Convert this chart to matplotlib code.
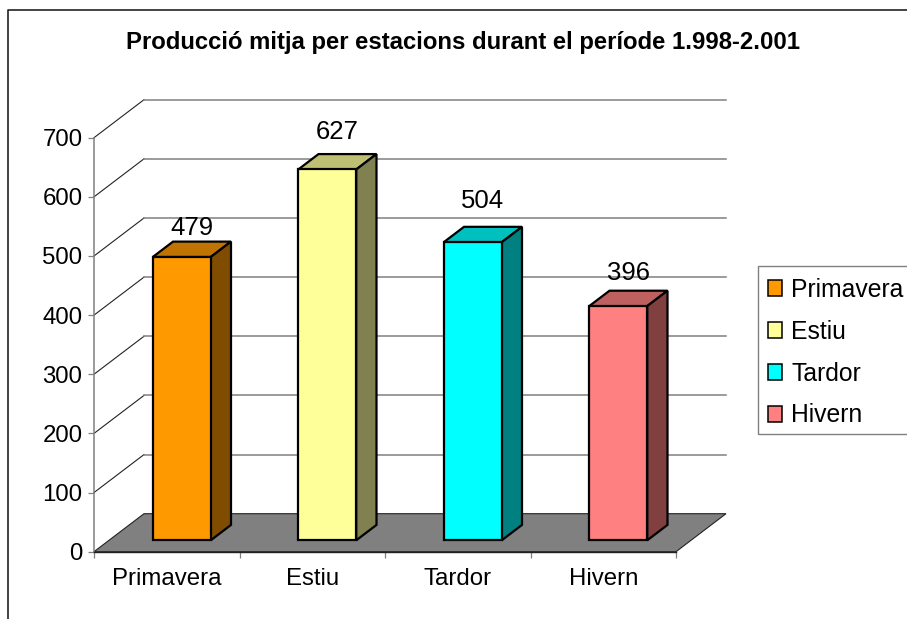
import matplotlib
matplotlib.use("Agg")
import matplotlib.pyplot as plt
from matplotlib.lines import Line2D
from matplotlib.patches import Patch, Polygon, Rectangle

categories = ["Primavera", "Estiu", "Tardor", "Hivern"]
values = [479, 627, 504, 396]
face_colors = ["#FF9900", "#FFFF99", "#00FFFF", "#FF8080"]
top_colors = ["#C07300", "#BFBF73", "#00BFBF", "#BF6060"]
side_colors = ["#804D00", "#808050", "#008080", "#804040"]
y_ticks = [0, 100, 200, 300, 400, 500, 600, 700]
title = "Producció mitja per estacions durant el període 1.998-2.001"

W, H = 907, 619
plt.rcParams["font.family"] = ["Liberation Sans", "DejaVu Sans"]
fig = plt.figure(figsize=(W / 100, H / 100), dpi=100, facecolor="white")

X0, X1, Y0, Y1 = 94.0, 676.0, 551.7, 137.7
ax = fig.add_axes([X0 / W, 1 - Y0 / H, (X1 - X0) / W, (Y0 - Y1) / H])
ax.set_xlim(0, 4)
ax.set_ylim(0, 700)
ax.patch.set_visible(False)

PX_X = (X1 - X0) / 4
PX_Y = (Y0 - Y1) / 700
DEPTH_X = 50 / PX_X      # full floor depth in category units
DEPTH_Y = 38 / PX_Y      # full floor depth in value units


def pt(x, v, d):
    return (x + d * DEPTH_X, v + d * DEPTH_Y)


GREY = "#808080"
# walls
for v in y_ticks[1:]:
    ax.plot(*zip(pt(0, v, 0), pt(0, v, 1)), color="#222222", lw=0.8, clip_on=False, zorder=1)
    ax.plot(*zip(pt(0, v, 1), pt(4, v, 1)), color=GREY, lw=1.1, clip_on=False, zorder=1)
# floor
ax.add_patch(Polygon([pt(0, 0, 0), pt(4, 0, 0), pt(4, 0, 1), pt(0, 0, 1)], closed=True,
                     facecolor=GREY, edgecolor="#222222", lw=0.8, clip_on=False, zorder=2))

# bars
D_FRONT, D_BACK = 0.30, 0.705
BAR_W = 58.0 / PX_X
label_raise_px = [7, 15, 19, 11]
for i, v in enumerate(values):
    xc = i + 0.5
    x_l = xc - BAR_W / 2
    x_r = xc + BAR_W / 2
    front_l = pt(x_l, v, D_FRONT)
    front_r = pt(x_r, v, D_FRONT)
    back_l = pt(x_l, v, D_BACK)
    back_r = pt(x_r, v, D_BACK)
    base_r = pt(x_r, 0, D_FRONT)
    base_br = pt(x_r, 0, D_BACK)
    base_l = pt(x_l, 0, D_FRONT)
    style = dict(edgecolor="black", lw=1.6, clip_on=False, zorder=3, joinstyle="miter")
    ax.add_patch(Polygon([front_l, back_l, back_r, front_r], closed=True, facecolor=top_colors[i], **style))
    ax.add_patch(Polygon([base_r, base_br, back_r, front_r], closed=True, facecolor=side_colors[i], **style))
    ax.bar(base_l[0], front_l[1] - base_l[1], width=BAR_W, bottom=base_l[1], align="edge",
           color=face_colors[i], edgecolor="black", linewidth=1.6, clip_on=False, zorder=4)
    anchor = (pt(xc, v, (D_FRONT + D_BACK) / 2)[0], pt(xc, v, D_BACK)[1])
    ax.annotate(str(v), xy=anchor, xytext=(0, label_raise_px[i] * 0.72), textcoords="offset points",
                ha="center", va="baseline", fontsize=18.5, color="black", zorder=6,
                annotation_clip=False)

# axes
for s in ("top", "right"):
    ax.spines[s].set_visible(False)
ax.spines["left"].set_color(GREY)
ax.spines["left"].set_linewidth(1.1)
ax.spines["bottom"].set_color("#222222")
ax.spines["bottom"].set_linewidth(1.0)
ax.set_yticks(y_ticks)
ax.tick_params(axis="y", length=4.3, width=0.9, color=GREY, pad=4, labelsize=17.3)
ax.set_xticks(range(5))
ax.set_xticklabels([])
ax.tick_params(axis="x", which="major", length=4.3, width=0.9, color=GREY)
ax.set_xticks([i + 0.5 for i in range(4)], minor=True)
ax.set_xticklabels(categories, minor=True)
ax.tick_params(axis="x", which="minor", length=0, pad=11.5, labelsize=17.3)

# title
fig.text(463.5 / W, 1 - 42 / H, title, ha="center", va="center", fontsize=17.2,
         fontweight="bold", color="black")

# outer chart border (left and top are visible)
fig.add_artist(Line2D([7.5 / W, 7.5 / W, 1], [0, 1 - 10 / H, 1 - 10 / H], color="#222222", lw=1.2))

# legend: frame drawn separately so that it can be cut by the figure edge like the reference
fig.add_artist(Rectangle((758 / W, 1 - 434 / H), 160 / W, 168 / H, transform=fig.transFigure,
                         facecolor="white", edgecolor=GREY, lw=1.0, zorder=2))
handles = [Patch(facecolor=c, edgecolor="black", linewidth=1.1) for c in face_colors]
leg = fig.legend(handles, categories, loc="upper left", bbox_to_anchor=(767.7 / W, 1 - 278 / H),
                 borderaxespad=0, frameon=False, fontsize=17.8, handlelength=0.58, handleheight=0.6,
                 handletextpad=0.37, labelspacing=0.72, borderpad=0)
leg.set_zorder(3)

fig.savefig("out.png", dpi=100)
